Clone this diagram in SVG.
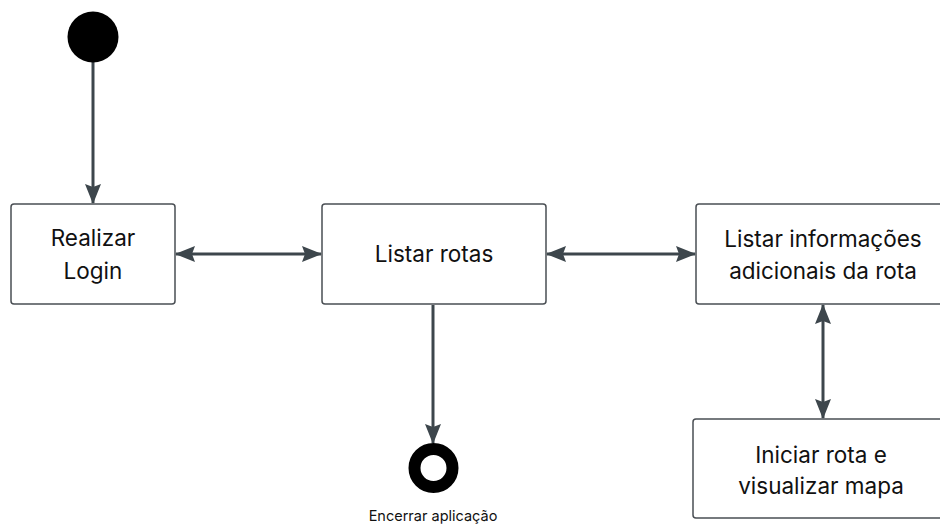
<svg xmlns="http://www.w3.org/2000/svg" width="940" height="526" viewBox="0 0 940 526">
  <style>
    .box { fill: #ffffff; stroke: #4a4f54; stroke-width: 1.5; }
    .label { font-family: Inter, "Noto Sans", "Liberation Sans", sans-serif; font-size: 22.5px; fill: #111111; text-anchor: middle; }
    .small { font-family: Inter, "Noto Sans", "Liberation Sans", sans-serif; font-size: 14.5px; fill: #111111; text-anchor: middle; }
    .edge { fill: none; stroke: #3d464c; stroke-width: 3; }
  </style>
  <defs>
    <marker id="head" viewBox="0 0 20 16" refX="19" refY="8" markerWidth="20" markerHeight="16" markerUnits="userSpaceOnUse" orient="auto-start-reverse">
      <path d="M0,0 L20,8 L0,16 L3,8 Z" fill="#3d464c"/>
    </marker>
  </defs>
  <rect width="940" height="526" fill="#ffffff"/>

  <g id="connectors">
    <line class="edge" x1="93" y1="62" x2="93" y2="203" marker-end="url(#head)"/>
    <line class="edge" x1="176" y1="254" x2="321" y2="254" marker-start="url(#head)" marker-end="url(#head)"/>
    <line class="edge" x1="547" y1="254" x2="695" y2="254" marker-start="url(#head)" marker-end="url(#head)"/>
    <line class="edge" x1="823" y1="305" x2="823" y2="418" marker-start="url(#head)" marker-end="url(#head)"/>
    <line class="edge" x1="433" y1="305" x2="433" y2="443" marker-end="url(#head)"/>
  </g>

  <g id="start">
    <circle cx="93" cy="37" r="25.5" fill="#000000"/>
  </g>

  <g id="login">
    <rect class="box" x="11" y="204" width="164" height="100" rx="3"/>
    <text class="label" x="93" y="246">Realizar</text>
    <text class="label" x="93" y="279">Login</text>
  </g>

  <g id="listar-rotas">
    <rect class="box" x="322" y="204" width="224" height="100" rx="3"/>
    <text class="label" x="434" y="262">Listar rotas</text>
  </g>

  <g id="info-rota">
    <rect class="box" x="696" y="204" width="256" height="100" rx="3"/>
    <text class="label" x="823" y="247">Listar informações</text>
    <text class="label" x="823" y="279">adicionais da rota</text>
  </g>

  <g id="iniciar-rota">
    <rect class="box" x="693" y="419" width="258" height="99" rx="3"/>
    <text class="label" x="821" y="463">Iniciar rota e</text>
    <text class="label" x="821" y="494">visualizar mapa</text>
  </g>

  <g id="end">
    <circle cx="433.5" cy="468" r="19" fill="none" stroke="#000000" stroke-width="12"/>
    <text class="small" x="433" y="521">Encerrar aplicação</text>
  </g>
</svg>
